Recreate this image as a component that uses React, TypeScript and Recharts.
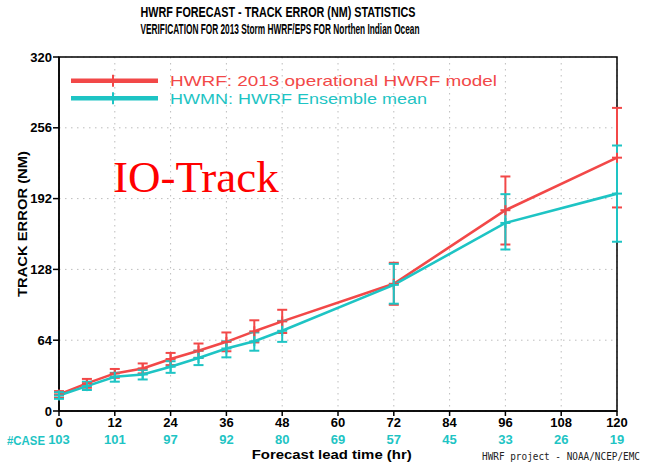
import { LineChart, Line, XAxis, YAxis, CartesianGrid, ErrorBar, ReferenceArea, Legend, Customized } from "recharts"

// forecast lead times (hr) where errors were verified
const hours = [0, 6, 12, 18, 24, 30, 36, 42, 48, 72, 96, 120]

// mean track error (NM) and the bounds of the error bars
const hwrf = [15, 25, 34, 38.5, 47, 54.5, 62.5, 72, 81, 115, 181.5, 229]
const hwrfHigh = [18, 29, 38, 43, 52.5, 61, 71, 82, 91.5, 134, 212, 274]
const hwrfLow = [12, 21, 30, 34, 41.5, 48, 54, 62, 70.5, 96, 150.5, 184]

const hwmn = [14, 22.5, 31, 33, 40, 48, 56.5, 63, 72.5, 114, 170, 196.5]
const hwmnHigh = [17, 26.5, 34.5, 37, 45, 54.5, 63, 71, 81.5, 133, 196, 240]
const hwmnLow = [11, 19, 26.5, 28.5, 34.5, 41.5, 48.5, 54.5, 62.5, 97, 146, 153]

const tickHours = [0, 12, 24, 36, 48, 60, 72, 84, 96, 108, 120]
const caseCounts = [103, 101, 97, 92, 80, 69, 57, 45, 33, 26, 19]
const yTicks = [0, 64, 128, 192, 256, 320]

const RED = "#f24848"
const CYAN = "#1ec4c4"
const FONT = "Liberation Sans, Arial, sans-serif"

const chartData = hours.map((h, i) => ({
  hour: h,
  hwrf: hwrf[i],
  hwmn: hwmn[i],
  hwrfErr: [hwrf[i] - hwrfLow[i], hwrfHigh[i] - hwrf[i]],
  hwmnErr: [hwmn[i] - hwmnLow[i], hwmnHigh[i] - hwmn[i]],
}))

// "+" marker at each verified point
const PlusDot = (props: any) => {
  const { cx, cy, stroke, index } = props
  if (cx == null || cy == null) return null
  return (
    <g key={`dot-${index}`}>
      <line x1={cx - 5} x2={cx + 5} y1={cy} y2={cy} stroke={stroke} strokeWidth={2} />
      <line x1={cx} x2={cx} y1={cy - 5} y2={cy + 5} stroke={stroke} strokeWidth={2} />
    </g>
  )
}

// legend rows keep the series order, not alphabetical
const legendOrder = ["hwrf", "hwmn"]
const legendTextWidth: Record<string, number> = { hwrf: 327, hwmn: 257 }

const LegendBox = ({ payload }: any) => {
  const items = [...(payload || [])].sort(
    (a: any, b: any) => legendOrder.indexOf(a.dataKey) - legendOrder.indexOf(b.dataKey)
  )
  return (
    <svg width={450} height={50} style={{ display: "block" }}>
      {items.map((p: any, i: number) => {
        const y = 18.7 + i * 17.6
        return (
          <g key={p.value}>
            <line x1={11} x2={98} y1={y} y2={y} stroke={p.color} strokeWidth={4.5} />
            <line x1={53} x2={53} y1={y - 6} y2={y + 6} stroke={p.color} strokeWidth={2} />
            <text
              x={110}
              y={y + 5.4}
              fill={p.color}
              fontFamily={FONT}
              fontSize={15}
              textLength={legendTextWidth[p.dataKey]}
              lengthAdjust="spacingAndGlyphs"
            >
              {p.value}
            </text>
          </g>
        )
      })}
    </svg>
  )
}

const Annotations = () => (
  <g fontFamily={FONT}>
    <text x={278} y={17} textAnchor="middle" fontSize={15} fontWeight="bold" textLength={275} lengthAdjust="spacingAndGlyphs">
      HWRF FORECAST - TRACK ERROR (NM) STATISTICS
    </text>
    <text x={280} y={34} textAnchor="middle" fontSize={15} fontWeight="bold" textLength={279} lengthAdjust="spacingAndGlyphs">
      VERIFICATION FOR 2013 Storm HWRF/EPS FOR Northen Indian Ocean
    </text>
    <text transform="translate(26.5,224) rotate(-90)" textAnchor="middle" fontSize={13} fontWeight="bold" textLength={146} lengthAdjust="spacingAndGlyphs">
      TRACK ERROR (NM)
    </text>
    <text x={331.7} y={459} textAnchor="middle" fontSize={13} fontWeight="bold" textLength={160} lengthAdjust="spacingAndGlyphs">
      Forecast lead time (hr)
    </text>
    <text x={7} y={445} fontSize={13} fontWeight="bold" fill={CYAN} textLength={38} lengthAdjust="spacingAndGlyphs">
      #CASE
    </text>
    <text x={482} y={460} fontSize={10} fontFamily="DejaVu Sans Mono, monospace" fill="#222" textLength={158} lengthAdjust="spacingAndGlyphs">
      HWRF project - NOAA/NCEP/EMC
    </text>
    <text x={113} y={191.7} fontSize={45} fontFamily="Liberation Serif, serif" fill="#ff0000">
      IO-Track
    </text>
  </g>
)

export default function App() {
  return (
    <div style={{ position: "absolute", left: 0, top: 0, width: 653, height: 467, background: "#fff" }}>
      <LineChart width={653} height={467} data={chartData} margin={{ top: 57, right: 36, bottom: 18, left: 0 }}>
        <CartesianGrid stroke="#bdbdbd" strokeDasharray="1.5 4.5" />
        <XAxis
          type="number"
          dataKey="hour"
          domain={[0, 120]}
          ticks={tickHours}
          interval={0}
          height={20}
          tickSize={5}
          tickMargin={2}
          axisLine={{ stroke: "#000", strokeWidth: 1.5 }}
          tickLine={{ stroke: "#000", strokeWidth: 1.5 }}
          tick={{ fill: "#000", fontSize: 13, fontWeight: "bold", fontFamily: FONT }}
        />
        <XAxis
          xAxisId="cases"
          type="number"
          dataKey="hour"
          domain={[0, 120]}
          ticks={tickHours}
          interval={0}
          height={18}
          tickSize={0}
          tickMargin={4}
          axisLine={false}
          tickLine={false}
          tickFormatter={(h: number) => String(caseCounts[tickHours.indexOf(h)] ?? "")}
          tick={{ fill: CYAN, fontSize: 13, fontWeight: "bold", fontFamily: FONT }}
        />
        <YAxis
          domain={[0, 320]}
          ticks={yTicks}
          interval={0}
          width={59}
          tickSize={6}
          tickMargin={1}
          axisLine={{ stroke: "#000", strokeWidth: 1.5 }}
          tickLine={{ stroke: "#000", strokeWidth: 1.5 }}
          tick={{ fill: "#000", fontSize: 13, fontWeight: "bold", fontFamily: FONT }}
        />
        <ReferenceArea x1={0} x2={120} y1={0} y2={320} fill="none" stroke="#000" strokeWidth={1.5} ifOverflow="visible" />
        <Line
          dataKey="hwrf"
          name="HWRF: 2013 operational HWRF model"
          stroke={RED}
          strokeWidth={2.6}
          dot={<PlusDot />}
          activeDot={false}
          isAnimationActive={false}
        >
          <ErrorBar dataKey="hwrfErr" direction="y" width={5} stroke={RED} strokeWidth={2} isAnimationActive={false} />
        </Line>
        <Line
          dataKey="hwmn"
          name="HWMN: HWRF Ensemble mean"
          stroke={CYAN}
          strokeWidth={2.6}
          dot={<PlusDot />}
          activeDot={false}
          isAnimationActive={false}
        >
          <ErrorBar dataKey="hwmnErr" direction="y" width={5} stroke={CYAN} strokeWidth={2} isAnimationActive={false} />
        </Line>
        <Legend
          layout="horizontal"
          verticalAlign="middle"
          align="center"
          content={<LegendBox />}
          wrapperStyle={{ top: 62, left: 60, width: 450, height: 50 }}
        />
        <Customized component={<Annotations />} />
      </LineChart>
    </div>
  )
}
